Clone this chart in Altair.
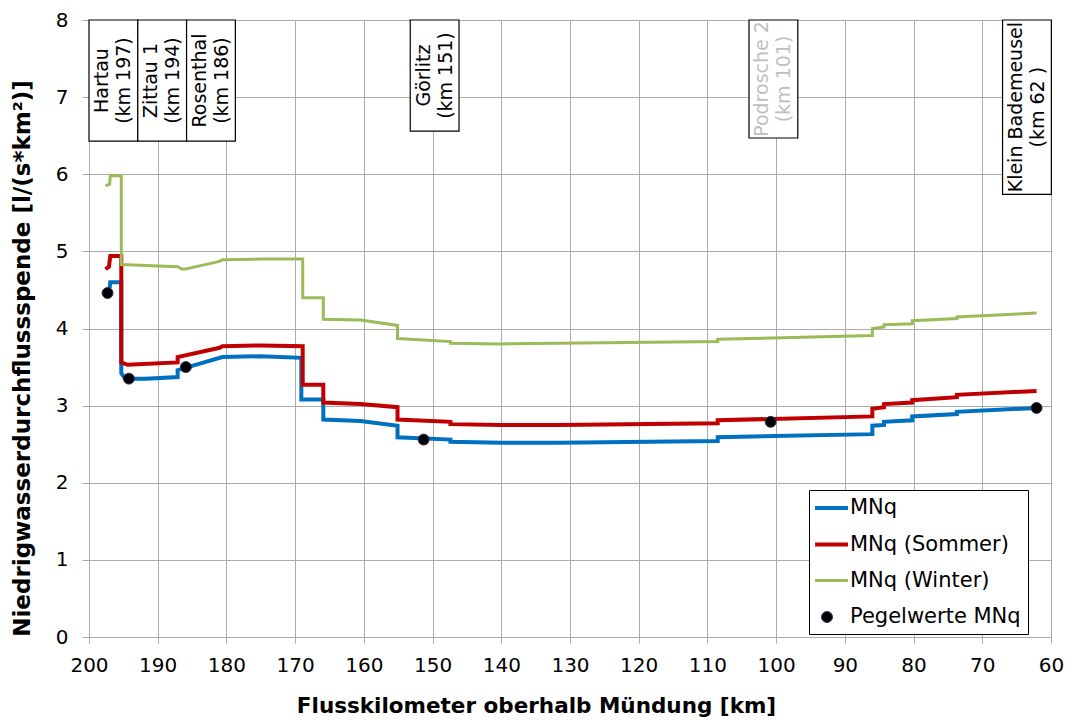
import altair as alt
import pandas as pd

# ---------------- data ----------------
series_names = ["MNq", "MNq (Sommer)", "MNq (Winter)", "Pegelwerte MNq"]
series_colors = ["#0070C0", "#C00000", "#9BBB59", "#3B2A5E"]
series_fills = ["#0070C0", "#C00000", "#9BBB59", "#000000"]
series_widths = [4, 4, 3, 1]
LEGEND_LINE = "M-1.33,0H2.33"
series_shapes = [LEGEND_LINE, LEGEND_LINE, LEGEND_LINE, "circle"]
series_sizes = [324, 324, 324, 120]

mnq_km = [197.0, 196.9, 195.3, 195.3, 194.7, 191.7, 187.1, 187.1, 180.6, 175.0, 169.1, 169.1,
          165.9, 165.9, 160.5, 155.1, 155.1, 147.4, 147.4, 140.0, 131.7, 108.5, 108.5, 86.0,
          86.0, 84.3, 84.3, 80.2, 80.2, 73.7, 73.7, 62.1]
mnq_val = [4.52, 4.60, 4.60, 3.42, 3.35, 3.35, 3.37, 3.46, 3.63, 3.64, 3.62, 3.08,
           3.08, 2.82, 2.80, 2.74, 2.59, 2.56, 2.53, 2.52, 2.52, 2.54, 2.59, 2.63,
           2.74, 2.75, 2.79, 2.81, 2.86, 2.89, 2.92, 2.97]

som_km = [197.6, 197.1, 196.9, 195.3, 195.3, 194.4, 187.1, 187.1, 181.0, 180.6, 175.0, 168.9,
          168.9, 165.9, 165.9, 160.5, 155.1, 155.1, 147.4, 147.4, 140.0, 131.7, 108.5, 108.5,
          86.0, 86.0, 84.3, 84.3, 80.2, 80.2, 73.7, 73.7, 62.1]
som_val = [4.77, 4.80, 4.94, 4.94, 3.56, 3.53, 3.56, 3.63, 3.75, 3.77, 3.78, 3.77,
           3.27, 3.27, 3.04, 3.02, 2.98, 2.82, 2.79, 2.76, 2.75, 2.75, 2.77, 2.81,
           2.86, 2.96, 2.98, 3.02, 3.04, 3.07, 3.11, 3.14, 3.19]

win_km = [197.6, 197.0, 196.9, 195.3, 195.3, 187.1, 186.5, 186.0, 181.0, 180.6, 175.0, 168.9,
          168.9, 165.9, 165.9, 160.5, 155.1, 155.1, 147.4, 147.4, 140.0, 131.7, 108.5, 108.5,
          86.0, 86.0, 84.3, 84.3, 80.2, 80.2, 73.7, 73.7, 62.1]
win_val = [5.85, 5.87, 5.98, 5.98, 4.83, 4.80, 4.77, 4.77, 4.87, 4.89, 4.90, 4.90,
           4.40, 4.40, 4.12, 4.11, 4.04, 3.87, 3.83, 3.81, 3.80, 3.81, 3.83, 3.86,
           3.91, 4.00, 4.02, 4.05, 4.06, 4.10, 4.13, 4.15, 4.20]

peg_km = [197.3, 194.2, 185.9, 151.3, 100.8, 62.1]
peg_val = [4.46, 3.35, 3.50, 2.56, 2.79, 2.97]

stations = ["Hartau", "Zittau 1", "Rosenthal", "Görlitz", "Podrosche 2", "Klein Bademeusel"]
station_km_text = ["(km 197)", "(km 194)", "(km 186)", "(km 151)", "(km 101)", "(km 62 )"]
label_center_km = [196.45, 189.35, 182.25, 149.7, 100.4, 63.5]
label_bottom = [6.43, 6.43, 6.43, 6.56, 6.47, 5.74]
label_text_colors = ["#000000", "#000000", "#000000", "#000000", "#BFBFBF", "#000000"]

x_ticks = list(range(200, 59, -10))
y_ticks = list(range(0, 9))

# ---------------- tables ----------------
rows = []
for name, kms, vals in [(series_names[0], mnq_km, mnq_val),
                        (series_names[1], som_km, som_val),
                        (series_names[2], win_km, win_val)]:
    for i, (k, v) in enumerate(zip(kms, vals)):
        rows.append({"series": name, "km": k, "val": v, "idx": i})
lines_df = pd.DataFrame(rows)

points_df = pd.DataFrame({"km": peg_km, "val": peg_val, "series": series_names[3]})

half_w = 3.55
ann_df = pd.DataFrame({
    "label": [f"{s}\n{k}" for s, k in zip(stations, station_km_text)],
    "x1": [c - half_w for c in label_center_km],
    "x2": [c + half_w for c in label_center_km],
    "xc": label_center_km,
    "ytop": [8.0] * len(stations),
    "ybot": label_bottom,
    "ymid": [(8.0 + b) / 2 for b in label_bottom],
    "tcolor": label_text_colors,
})

FONT = "DejaVu Sans"
GRID = "#ABABAB"

x_scale = alt.Scale(domain=[60, 200], reverse=True, nice=False, zero=False)
y_scale = alt.Scale(domain=[0, 8], nice=False)

x_axis = alt.Axis(
    values=x_ticks, title="Flusskilometer oberhalb Mündung [km]", format="d",
    labelFont=FONT, labelFontSize=20, labelColor="#000000", labelPadding=12,
    labelFlush=False,
    tickSize=6, tickColor=GRID, domainColor=GRID, gridColor=GRID, gridWidth=1,
    titleFont=FONT, titleFontSize=21.5, titleFontWeight="bold", titleColor="#000000",
    titleX=447, titleY=75, titleBaseline="alphabetic", titleAnchor="middle", titleAlign="center",
)
y_axis = alt.Axis(
    values=y_ticks, title="Niedrigwasserdurchflussspende [l/(s*km²)]", format="d",
    labelFont=FONT, labelFontSize=20, labelColor="#000000", labelPadding=14,
    tickSize=7, tickColor=GRID, domainColor=GRID, gridColor=GRID, gridWidth=1,
    titleFont=FONT, titleFontSize=23, titleFontWeight="bold", titleColor="#000000",
    titleX=-67, titleY=338, titleBaseline="middle", titleAlign="center", titleAngle=270,
)

legend = alt.Legend(
    title=None, orient="none", legendX=720, legendY=470,
    strokeColor="#000000", fillColor="#FFFFFF", padding=7, cornerRadius=0,
    labelFont=FONT, labelFontSize=21, labelColor="#000000", labelOffset=12,
    labelLimit=400, gridAlign="all", rowPadding=14.5,
)

stroke_scale = alt.Scale(type="ordinal", domain=series_names, range=series_colors)
fill_scale = alt.Scale(type="ordinal", domain=series_names, range=series_fills)
width_scale = alt.Scale(type="ordinal", domain=series_names, range=series_widths)
shape_scale = alt.Scale(type="ordinal", domain=series_names, range=series_shapes)
size_scale = alt.Scale(type="ordinal", domain=series_names, range=series_sizes)

lines = alt.Chart(lines_df).mark_line(strokeJoin="miter", strokeCap="butt").encode(
    x=alt.X("km:Q", scale=x_scale, axis=x_axis),
    y=alt.Y("val:Q", scale=y_scale, axis=y_axis),
    stroke=alt.Stroke("series:N", scale=stroke_scale, legend=legend),
    strokeWidth=alt.StrokeWidth("series:N", scale=width_scale, legend=legend),
    order=alt.Order("idx:Q"),
    detail="series:N",
)

points = alt.Chart(points_df).mark_point(filled=True, opacity=1).encode(
    x=alt.X("km:Q", scale=x_scale),
    y=alt.Y("val:Q", scale=y_scale),
    stroke=alt.Stroke("series:N", scale=stroke_scale, legend=legend),
    fill=alt.Fill("series:N", scale=fill_scale, legend=legend),
    strokeWidth=alt.StrokeWidth("series:N", scale=width_scale, legend=legend),
    shape=alt.Shape("series:N", scale=shape_scale, legend=legend),
    size=alt.Size("series:N", scale=size_scale, legend=legend),
)

boxes = alt.Chart(ann_df).mark_rect(fill="#FFFFFF", stroke="#000000", strokeWidth=1.2).encode(
    x=alt.X("x1:Q", scale=x_scale), x2="x2:Q",
    y=alt.Y("ytop:Q", scale=y_scale), y2="ybot:Q",
)

texts = alt.Chart(ann_df).mark_text(
    angle=270, align="center", baseline="middle", lineBreak="\n",
    font=FONT, fontSize=19, lineHeight=22, dy=-11,
).encode(
    x=alt.X("xc:Q", scale=x_scale),
    y=alt.Y("ymid:Q", scale=y_scale),
    text="label:N",
    color=alt.Color("tcolor:N", scale=None),
)

chart = alt.layer(lines, points, boxes, texts).properties(
    width=962, height=617,
    autosize=alt.AutoSizeParams(type="none"),
    padding={"left": 81, "top": 12, "right": 13, "bottom": 80},
).configure_view(stroke=None).configure(background="#FFFFFF")

chart.save("out.html", embed_options={"renderer": "svg", "actions": False})
